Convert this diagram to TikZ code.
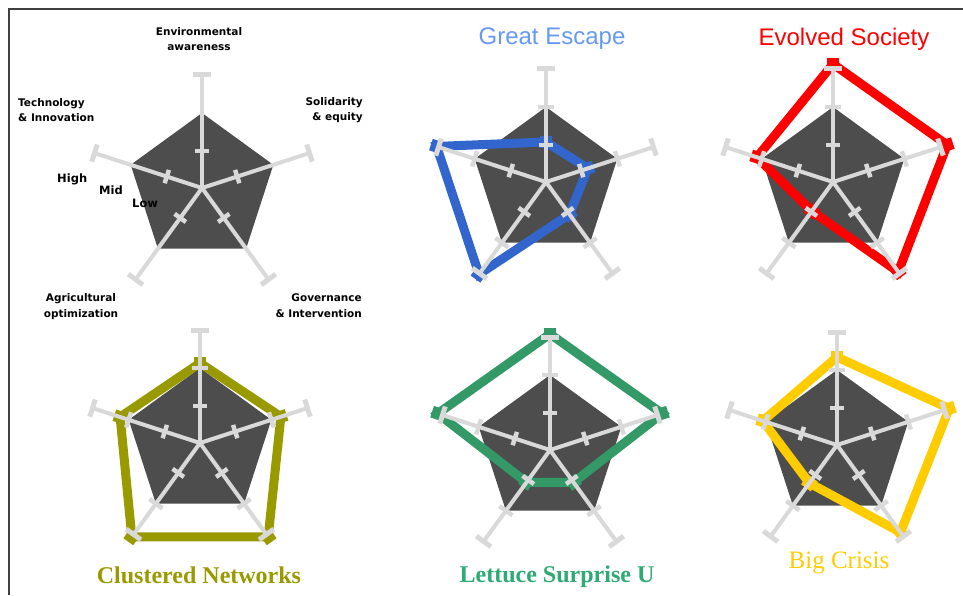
\documentclass[tikz,border=0pt]{standalone}
\usepackage{fontspec}
\setmainfont{Liberation Serif}
\newfontfamily\labelfont{DejaVu Sans}
\newfontfamily\titlefont{Liberation Sans}
\definecolor{spokegrey}{HTML}{D9D9D9}
\definecolor{pentgrey}{HTML}{4D4D4D}
\definecolor{framegrey}{HTML}{404040}
\definecolor{escapeblue}{HTML}{3366CC}
\definecolor{escapetitle}{HTML}{6699F5}
\definecolor{evolvedred}{HTML}{FF0000}
\definecolor{clusterolive}{HTML}{999900}
\definecolor{lettucegreen}{HTML}{339966}
\definecolor{lettucetitle}{HTML}{2EAA74}
\definecolor{crisisgold}{HTML}{FFCC00}
\tikzset{
  spoke/.style={draw=spokegrey, line width=4pt},
  endbar/.style={draw=spokegrey, line width=5pt},
  tickbar/.style={draw=spokegrey, line width=4.5pt},
  trace/.style={line width=9pt, line join=miter, miter limit=6},
  vmark/.style={rectangle, inner sep=0pt, minimum size=12pt},
  axlabel/.style={font=\labelfont\bfseries\fontsize{10.5}{15}\selectfont, inner sep=0pt},
  lvlabel/.style={font=\labelfont\bfseries\fontsize{11.5}{12}\selectfont, inner sep=0pt, anchor=base west},
  sanstitle/.style={font=\titlefont\fontsize{24}{24}\selectfont, inner sep=0pt, anchor=base},
  seriftitle/.style={font=\bfseries\fontsize{24}{24}\selectfont, inner sep=0pt, anchor=base}
}
% #1 = centre
\newcommand{\pentagonat}[1]{%
  \fill[pentgrey,shift={(#1)}] (90:75) \foreach \a in {18,-54,-126,162} {-- (\a:75)} -- cycle;}
% #1 = centre, #2 = colour, #3..#7 = env, sol, gov, agr, tech
\newcommand{\traceat}[7]{%
  \begin{scope}[shift={(#1)}]
    \draw[trace,#2] (90:#3) -- (18:#4) -- (-54:#5) -- (-126:#6) -- (162:#7) -- cycle;
    \foreach \a/\r in {90/#3,18/#4,-54/#5,-126/#6,162/#7}
      \node[vmark,fill=#2,rotate=\a] (#2\a) at (\a:\r) {};
  \end{scope}}
% #1 = centre, #2 = 1 for the mid ticks
\newcommand{\spokesat}[2]{%
  \begin{scope}[shift={(#1)}]
    \foreach \a in {90,18,-54,-126,162} {
      \draw[spoke] (0,0) -- (\a:113);
      \draw[endbar] (\a:113) ++({\a+90}:9) -- ++({\a-90}:18);
      \draw[tickbar] (\a:37) ++({\a+90}:7) -- ++({\a-90}:14);
      \ifnum#2=1 \draw[tickbar] (\a:75) ++({\a+90}:8) -- ++({\a-90}:16);\fi
    }
  \end{scope}}
\begin{document}
\begin{tikzpicture}[x=1pt,y=1pt]
\useasboundingbox (0,0) rectangle (963,595);
\draw[framegrey,line width=2pt] (9,0) -- (9,586) -- (963,586);
%legend
\pentagonat{202,407}
\spokesat{202,407}{0}
\node[axlabel,anchor=base,align=center] (env) at (199,544) {Environmental\\awareness};
\node[axlabel,anchor=base west,align=left] (tech) at (18,473) {Technology\\\& Innovation};
\node[axlabel,anchor=base east,align=right] (sol) at (363,474) {Solidarity\\\& equity};
\node[axlabel,anchor=base,align=center] (agr) at (81,278) {Agricultural\\optimization};
\node[axlabel,anchor=base east,align=right] (gov) at (362,278) {Governance\\\& Intervention};
\node[lvlabel] (high) at (57,412) {High};
\node[lvlabel] (mid) at (99,400) {Mid};
\node[lvlabel] (low) at (132,387) {Low};
%great escape
\pentagonat{546,413}
\traceat{546,413}{escapeblue}{40}{44}{40}{114}{115}
\spokesat{546,413}{1}
\node[sanstitle,text=escapetitle] (escape) at (552,550) {Great Escape};
%evolved society
\pentagonat{833,413}
\traceat{833,413}{evolvedred}{118}{120}{111}{36}{80}
\spokesat{833,413}{1}
\node[sanstitle,text=evolvedred] (evolved) at (844,549) {Evolved Society};
%clustered networks
\pentagonat{200,152}
\traceat{200,152}{clusterolive}{80}{85}{116}{116}{84}
\spokesat{200,152}{1}
\node[seriftitle,text=clusterolive] (clustered) at (199,12) {Clustered Networks};
%lettuce surprise u
\pentagonat{550,145}
\traceat{550,145}{lettucegreen}{116}{118}{40}{40}{118}
\spokesat{550,145}{1}
\node[seriftitle,text=lettucetitle] (lettuce) at (557,13) {Lettuce Surprise U};
%big crisis
\pentagonat{837,150}
\traceat{837,150}{crisisgold}{88}{118}{108}{47}{78}
\spokesat{837,150}{1}
\node[seriftitle,text=crisisgold,font=\fontsize{25}{25}\selectfont] (crisis) at (839,27) {Big Crisis};
\end{tikzpicture}
\end{document}
